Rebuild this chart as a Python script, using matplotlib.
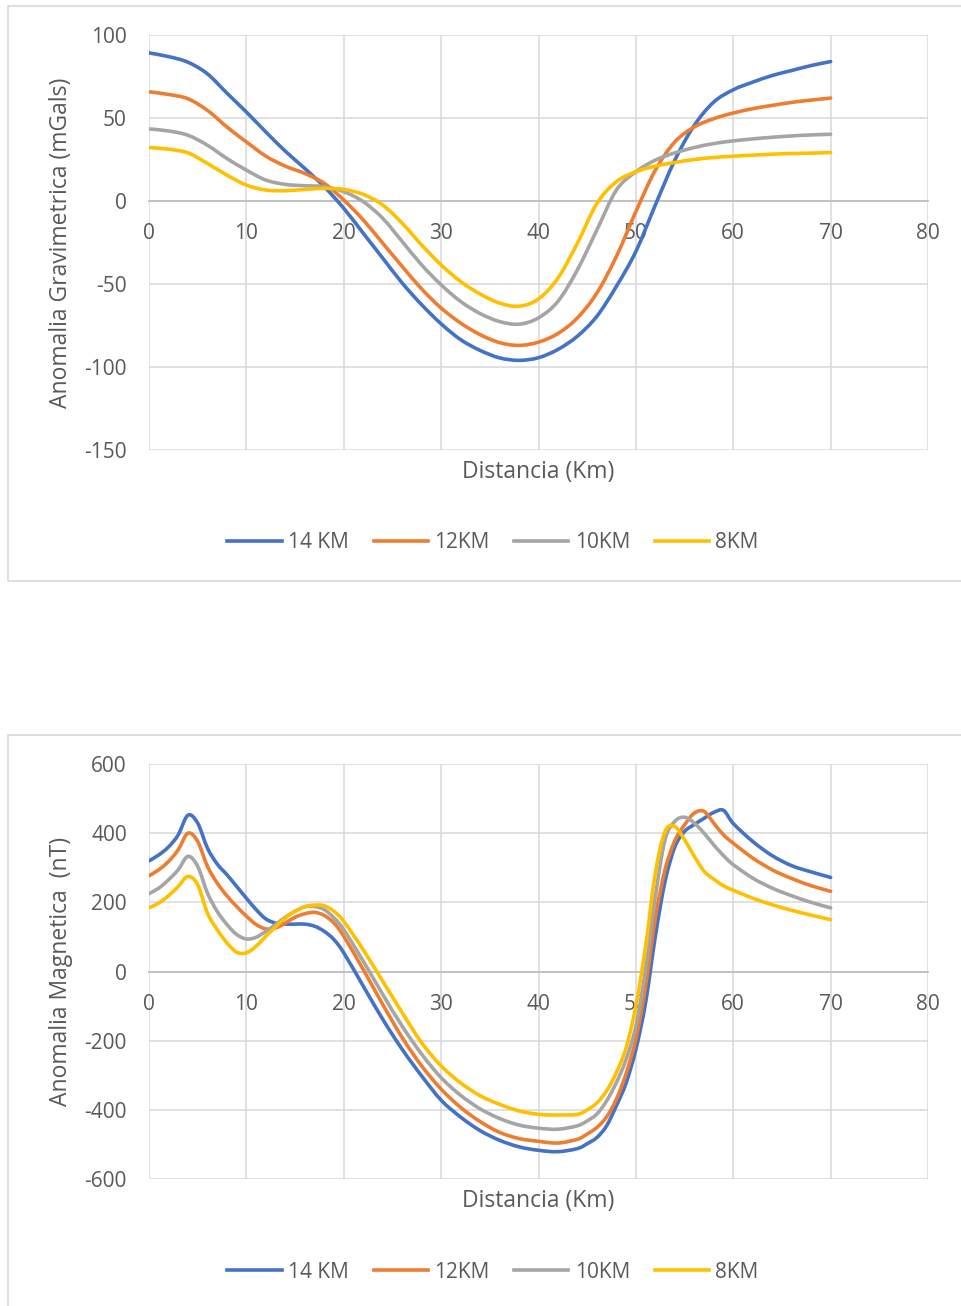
import matplotlib
matplotlib.use("Agg")
import matplotlib.pyplot as plt
from matplotlib.patches import Rectangle, PathPatch
from matplotlib.path import Path
from matplotlib.lines import Line2D

plt.rcParams['font.family'] = ['Open Sans', 'DejaVu Sans']
plt.rcParams['axes.unicode_minus'] = False

# series names and colours (Office palette)
labels = ['14 KM', '12KM', '10KM', '8KM']
colors = ['#4472C4', '#ED7D31', '#A5A5A5', '#FFC000']

# gravity profile, every 2 km
x_grav = list(range(0, 71, 2))
grav_14 = [89.2, 87.0, 83.6, 76.6, 65.0, 53.6, 41.6, 30.0, 19.6, 8.6, -4.4, -19.4,
           -34.4, -49.4, -62.5, -74.0, -83.5, -90.0, -94.5, -96.0, -94.4, -89.4, -81.4, -69.4,
           -51.4, -30.4, -2.4, 24.6, 45.6, 59.6, 67.0, 71.6, 75.6, 78.6, 81.6, 84.0]
grav_12 = [65.8, 64.2, 61.6, 54.6, 44.6, 35.6, 27.0, 21.0, 16.6, 10.6, 0.6, -11.4,
           -25.4, -39.4, -53.0, -64.5, -73.5, -80.5, -85.3, -87.0, -85.0, -79.8, -70.4, -55.4,
           -33.4, -6.4, 18.6, 35.6, 44.6, 49.6, 53.0, 55.6, 57.6, 59.4, 60.8, 62.0]
grav_10 = [43.4, 42.2, 39.6, 33.6, 25.6, 18.6, 12.6, 10.0, 9.2, 8.6, 5.6, -0.4,
           -10.4, -24.4, -38.5, -50.5, -60.5, -67.8, -72.6, -74.2, -70.4, -60.4, -41.4, -17.4,
           6.6, 17.6, 24.6, 29.0, 32.2, 34.6, 36.2, 37.4, 38.4, 39.2, 39.8, 40.2]
grav_8 = [32.2, 31.2, 29.0, 22.6, 15.6, 9.6, 6.6, 6.2, 7.0, 7.6, 7.0, 4.0,
          -2.4, -13.4, -26.5, -38.5, -48.5, -56.0, -61.5, -63.4, -59.0, -46.4, -25.4, -1.4,
          11.6, 17.6, 21.0, 23.2, 25.0, 26.2, 27.0, 27.6, 28.2, 28.6, 28.8, 29.2]

# magnetic profile, denser where the curves bend
x_mag = list(range(0, 21)) + list(range(22, 45, 2)) + list(range(45, 61)) + list(range(62, 71, 2))
mag_14 = [320, 337, 360, 395, 452, 429, 357, 311, 280, 246, 212, 179, 152, 140, 137, 137, 137, 131, 116, 92, 54,
          -42, -138, -225, -302, -372, -421, -460, -488, -507, -517, -521, -512,
          -498, -480, -446, -388, -322, -225, -90, 102, 261, 360, 405, 425, 443, 460, 466, 428,
          376, 335, 306, 288, 272]
mag_12 = [277, 294, 318, 352, 400, 376, 304, 256, 219, 188, 160, 136, 123, 126, 140, 157, 167, 171, 162, 140, 102,
          6, -95, -191, -273, -340, -393, -434, -465, -483, -491, -496, -485,
          -470, -451, -420, -369, -295, -195, -42, 155, 295, 378, 424, 458, 463, 429, 395, 371,
          328, 294, 269, 248, 232]
mag_10 = [225, 241, 265, 294, 333, 304, 227, 174, 136, 107, 94, 99, 116, 136, 157, 174, 187, 188, 179, 155, 121,
          30, -66, -158, -239, -307, -358, -397, -425, -444, -453, -456, -446,
          -432, -412, -374, -321, -254, -158, 6, 217, 381, 434, 446, 429, 400, 366, 335, 309,
          270, 241, 219, 200, 184]
mag_8 = [184, 198, 219, 246, 275, 251, 169, 121, 83, 56, 54, 73, 102, 129, 155, 174, 187, 192, 190, 174, 145,
         63, -28, -119, -206, -273, -322, -359, -384, -403, -413, -415, -413,
         -400, -380, -345, -292, -220, -100, 73, 285, 405, 419, 381, 333, 290, 267, 248, 235,
         212, 193, 177, 163, 150]

W, H = 961, 1306
LW = 2.6
fig = plt.figure(figsize=(W / 100, H / 100), dpi=100)
fig.patch.set_facecolor('white')


def fx(px):
    return px / W


def fy(py):
    return 1 - py / H


def smooth_path(x, y):
    # Bezier segments through every point, like a spreadsheet "smoothed line"
    n = len(x)
    verts = [(x[0], y[0])]
    codes = [Path.MOVETO]
    for i in range(n - 1):
        xa, ya = (x[i - 1], y[i - 1]) if i > 0 else (x[i], y[i])
        xd, yd = (x[i + 2], y[i + 2]) if i + 2 < n else (x[i + 1], y[i + 1])
        c1 = (x[i] + (x[i + 1] - xa) / 6, y[i] + (y[i + 1] - ya) / 6)
        c2 = (x[i + 1] - (xd - x[i]) / 6, y[i + 1] - (yd - y[i]) / 6)
        verts += [c1, c2, (x[i + 1], y[i + 1])]
        codes += [Path.CURVE4] * 3
    return Path(verts, codes)


def panel(top, bottom):
    # light frame around each chart block
    fig.patches.append(Rectangle((fx(8), fy(bottom)), fx(1000) - fx(8), fy(top) - fy(bottom),
                                 transform=fig.transFigure, fill=False,
                                 edgecolor='#d9d9d9', linewidth=1.2))


def chart(top, bottom, x, series, ylim, yticks, ylabel):
    ax = fig.add_axes([fx(149), fy(bottom), fx(928) - fx(149), fy(top) - fy(bottom)])
    for ys, c in zip(series, colors):
        ax.add_patch(PathPatch(smooth_path(x, ys), fill=False, edgecolor=c, linewidth=LW,
                               capstyle='round', joinstyle='round', zorder=3))
    ax.set_xlim(0, 80)
    ax.set_ylim(*ylim)
    ax.set_xticks(range(0, 81, 10))
    ax.set_yticks(yticks)
    ax.grid(True, color='#d9d9d9', linewidth=1.1)
    ax.set_axisbelow(True)
    for s in ['top', 'right', 'left']:
        ax.spines[s].set_visible(False)
    ax.spines['bottom'].set_position(('data', 0))
    ax.spines['bottom'].set_color('#bfbfbf')
    ax.spines['bottom'].set_linewidth(1.3)
    ax.spines['bottom'].set_zorder(2)
    ax.tick_params(axis='both', length=0, labelsize=15, colors='#595959')
    ax.tick_params(axis='x', pad=16)
    ax.tick_params(axis='y', pad=16)
    mid = (top + bottom) / 2
    fig.text(fx(61), fy(mid), ylabel, rotation=90, ha='center', va='center',
             fontsize=16.5, color='#595959')
    fig.text(fx(538), fy(bottom + 22), 'Distancia (Km)', ha='center', va='center',
             fontsize=16.5, color='#595959')
    handles = [Line2D([], [], color=c, linewidth=LW) for c in colors]
    fig.legend(handles, labels, loc='center', bbox_to_anchor=(fx(493), fy(bottom + 93)),
               ncol=4, frameon=False, fontsize=15, handlelength=2.6, handletextpad=0.3,
               columnspacing=1.2, labelcolor='#595959')
    return ax


panel(6, 581)
panel(735, 1330)

chart(35, 450, x_grav, [grav_14, grav_12, grav_10, grav_8], (-150, 100),
      range(-150, 101, 50), 'Anomalia Gravimetrica (mGals)')
chart(764, 1179, x_mag, [mag_14, mag_12, mag_10, mag_8], (-600, 600),
      range(-600, 601, 200), 'Anomalia Magnetica  (nT)')

fig.savefig('out.png', dpi=100, facecolor='white')
